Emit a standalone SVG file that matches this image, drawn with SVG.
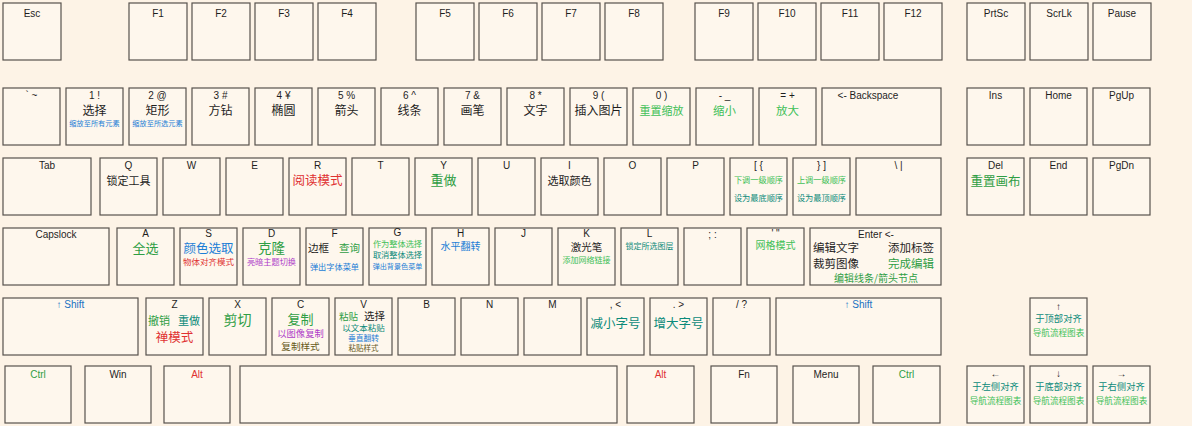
<svg xmlns="http://www.w3.org/2000/svg" width="1192" height="426" viewBox="0 0 1192 426">
<style>
.bg{fill:#fdf3e6}
.k{fill:#fef7ed;stroke:#57524d;stroke-width:1.2}
text{font-family:"Liberation Sans","Noto Sans CJK SC",sans-serif;text-anchor:middle;fill:#1e1e1e}
.l{font-size:10px}
.f{font-size:10px}
.z{font-family:"Noto Sans CJK SC",sans-serif}
.s{text-anchor:start}
.gr{fill:#2f9e44}
.lg{fill:#40c057}
.tl{fill:#0b8a7a}
.bl{fill:#1c7ed6}
.db{fill:#1971c2}
.rd{fill:#e03131}
.pu{fill:#ae3ec9}
.ol{fill:#66591a}
</style>
<rect class="bg" x="0" y="0" width="1192" height="426"/>
<g id="connectors"/>
<!-- Row 1 -->
<g id="key-esc"><rect class="k" x="3" y="3" width="58" height="57"/><text class="f" x="32" y="17">Esc</text></g>
<g id="key-f1"><rect class="k" x="129" y="3" width="58" height="57"/><text class="f" x="158" y="17">F1</text></g>
<g id="key-f2"><rect class="k" x="192" y="3" width="58" height="57"/><text class="f" x="221" y="17">F2</text></g>
<g id="key-f3"><rect class="k" x="255" y="3" width="58" height="57"/><text class="f" x="284" y="17">F3</text></g>
<g id="key-f4"><rect class="k" x="318" y="3" width="58" height="57"/><text class="f" x="347" y="17">F4</text></g>
<g id="key-f5"><rect class="k" x="416" y="3" width="58" height="57"/><text class="f" x="445" y="17">F5</text></g>
<g id="key-f6"><rect class="k" x="479" y="3" width="58" height="57"/><text class="f" x="508" y="17">F6</text></g>
<g id="key-f7"><rect class="k" x="542" y="3" width="58" height="57"/><text class="f" x="571" y="17">F7</text></g>
<g id="key-f8"><rect class="k" x="605" y="3" width="58" height="57"/><text class="f" x="634" y="17">F8</text></g>
<g id="key-f9"><rect class="k" x="695" y="3" width="58" height="57"/><text class="f" x="724" y="17">F9</text></g>
<g id="key-f10"><rect class="k" x="758" y="3" width="58" height="57"/><text class="f" x="787" y="17">F10</text></g>
<g id="key-f11"><rect class="k" x="821" y="3" width="58" height="57"/><text class="f" x="850" y="17">F11</text></g>
<g id="key-f12"><rect class="k" x="884" y="3" width="58" height="57"/><text class="f" x="913" y="17">F12</text></g>
<g id="key-prtsc"><rect class="k" x="967" y="3" width="58" height="57"/><text class="f" x="996" y="17">PrtSc</text></g>
<g id="key-scrlk"><rect class="k" x="1030" y="3" width="58" height="57"/><text class="f" x="1059" y="17">ScrLk</text></g>
<g id="key-pause"><rect class="k" x="1093" y="3" width="58" height="57"/><text class="f" x="1122" y="17">Pause</text></g>
<!-- Row 2 -->
<g id="key-backtick"><rect class="k" x="3" y="88" width="57" height="57"/><text class="l" x="31.5" y="99">` ~</text></g>
<g id="key-1"><rect class="k" x="66" y="88" width="57" height="57"/><text class="l" x="94.5" y="99">1 !</text><text class="z" x="94.5" y="115" font-size="12">选择</text><text class="z bl" x="94.5" y="126" font-size="7.2">缩放至所有元素</text></g>
<g id="key-2"><rect class="k" x="129" y="88" width="57" height="57"/><text class="l" x="157.5" y="99">2 @</text><text class="z" x="157.5" y="115" font-size="12">矩形</text><text class="z bl" x="157.5" y="126" font-size="7.2">缩放至所选元素</text></g>
<g id="key-3"><rect class="k" x="192" y="88" width="57" height="57"/><text class="l" x="220.5" y="99">3 #</text><text class="z" x="220.5" y="115" font-size="12">方钻</text></g>
<g id="key-4"><rect class="k" x="255" y="88" width="57" height="57"/><text class="l" x="283.5" y="99">4 ¥</text><text class="z" x="283.5" y="115" font-size="12">椭圆</text></g>
<g id="key-5"><rect class="k" x="318" y="88" width="57" height="57"/><text class="l" x="346.5" y="99">5 %</text><text class="z" x="346.5" y="115" font-size="12">箭头</text></g>
<g id="key-6"><rect class="k" x="381" y="88" width="57" height="57"/><text class="l" x="409.5" y="99">6 ^</text><text class="z" x="409.5" y="115" font-size="12">线条</text></g>
<g id="key-7"><rect class="k" x="444" y="88" width="57" height="57"/><text class="l" x="472.5" y="99">7 &amp;</text><text class="z" x="472.5" y="115" font-size="12">画笔</text></g>
<g id="key-8"><rect class="k" x="507" y="88" width="57" height="57"/><text class="l" x="535.5" y="99">8 *</text><text class="z" x="535.5" y="115" font-size="12">文字</text></g>
<g id="key-9"><rect class="k" x="570" y="88" width="57" height="57"/><text class="l" x="598.5" y="99">9 (</text><text class="z" x="598.5" y="115" font-size="12">插入图片</text></g>
<g id="key-0"><rect class="k" x="633" y="88" width="57" height="57"/><text class="l" x="661.5" y="99">0 )</text><text class="z lg" x="661.5" y="115" font-size="11">重置缩放</text></g>
<g id="key-minus"><rect class="k" x="696" y="88" width="57" height="57"/><text class="l" x="724.5" y="99">- _</text><text class="z lg" x="724.5" y="115" font-size="11.5">缩小</text></g>
<g id="key-equal"><rect class="k" x="759" y="88" width="57" height="57"/><text class="l" x="787.5" y="99">= +</text><text class="z lg" x="787.5" y="115" font-size="11.5">放大</text></g>
<g id="key-backspace"><rect class="k" x="822" y="88" width="119" height="57"/><text class="l" x="868" y="99">&lt;- Backspace</text></g>
<g id="key-ins"><rect class="k" x="967" y="88" width="57" height="57"/><text class="l" x="995.5" y="99">Ins</text></g>
<g id="key-home"><rect class="k" x="1030" y="88" width="57" height="57"/><text class="l" x="1058.5" y="99">Home</text></g>
<g id="key-pgup"><rect class="k" x="1093" y="88" width="57" height="57"/><text class="l" x="1121.5" y="99">PgUp</text></g>
<!-- Row 3 -->
<g id="key-tab"><rect class="k" x="3" y="158" width="88" height="57"/><text class="l" x="47" y="169">Tab</text></g>
<g id="key-q"><rect class="k" x="100" y="158" width="57" height="57"/><text class="l" x="128.5" y="169">Q</text><text class="z" x="128.5" y="185" font-size="11">锁定工具</text></g>
<g id="key-w"><rect class="k" x="163" y="158" width="57" height="57"/><text class="l" x="191.5" y="169">W</text></g>
<g id="key-e"><rect class="k" x="226" y="158" width="57" height="57"/><text class="l" x="254.5" y="169">E</text></g>
<g id="key-r"><rect class="k" x="289" y="158" width="57" height="57"/><text class="l" x="317.5" y="169">R</text><text class="z rd" x="317.5" y="185" font-size="12.5">阅读模式</text></g>
<g id="key-t"><rect class="k" x="352" y="158" width="57" height="57"/><text class="l" x="380.5" y="169">T</text></g>
<g id="key-y"><rect class="k" x="415" y="158" width="57" height="57"/><text class="l" x="443.5" y="169">Y</text><text class="z gr" x="443.5" y="185" font-size="13">重做</text></g>
<g id="key-u"><rect class="k" x="478" y="158" width="57" height="57"/><text class="l" x="506.5" y="169">U</text></g>
<g id="key-i"><rect class="k" x="541" y="158" width="57" height="57"/><text class="l" x="569.5" y="169">I</text><text class="z" x="569.5" y="185" font-size="11">选取颜色</text></g>
<g id="key-o"><rect class="k" x="604" y="158" width="57" height="57"/><text class="l" x="632.5" y="169">O</text></g>
<g id="key-p"><rect class="k" x="667" y="158" width="57" height="57"/><text class="l" x="695.5" y="169">P</text></g>
<g id="key-lbracket"><rect class="k" x="730" y="158" width="57" height="57"/><text class="l" x="758.5" y="169">[ {</text><text class="z lg" x="758.5" y="183" font-size="8.2">下调一级顺序</text><text class="z tl" x="758.5" y="201" font-size="8.2">设为最底顺序</text></g>
<g id="key-rbracket"><rect class="k" x="793" y="158" width="57" height="57"/><text class="l" x="821.5" y="169">} ]</text><text class="z lg" x="821.5" y="183" font-size="8.2">上调一级顺序</text><text class="z tl" x="821.5" y="201" font-size="8.2">设为最顶顺序</text></g>
<g id="key-backslash"><rect class="k" x="856" y="158" width="85" height="57"/><text class="l" x="898.5" y="169">\ |</text></g>
<g id="key-del"><rect class="k" x="967" y="158" width="57" height="57"/><text class="l" x="995.5" y="169">Del</text><text class="z gr" x="995.5" y="186" font-size="12.5">重置画布</text></g>
<g id="key-end"><rect class="k" x="1030" y="158" width="57" height="57"/><text class="l" x="1058.5" y="169">End</text></g>
<g id="key-pgdn"><rect class="k" x="1093" y="158" width="57" height="57"/><text class="l" x="1121.5" y="169">PgDn</text></g>
<!-- Row 4 -->
<g id="key-capslock"><rect class="k" x="3" y="228" width="106" height="57"/><text class="l" x="56" y="238">Capslock</text></g>
<g id="key-a"><rect class="k" x="117" y="228" width="57" height="57"/><text class="l" x="145.5" y="237">A</text><text class="z gr" x="145.5" y="253" font-size="13">全选</text></g>
<g id="key-s"><rect class="k" x="180" y="228" width="57" height="57"/><text class="l" x="208.5" y="237">S</text><text class="z bl" x="208.5" y="253" font-size="12.5">颜色选取</text><text class="z rd" x="208.5" y="265" font-size="8.5">物体对齐模式</text></g>
<g id="key-d"><rect class="k" x="243" y="228" width="57" height="57"/><text class="l" x="271.5" y="237">D</text><text class="z gr" x="271.5" y="253" font-size="13.5">克隆</text><text class="z pu" x="271.5" y="265" font-size="8.2">亮暗主题切换</text></g>
<g id="key-f"><rect class="k" x="306" y="228" width="57" height="57"/><text class="l" x="334.5" y="237">F</text><text class="z s" x="308" y="252" font-size="10.5">边框</text><text class="z s gr" x="339" y="252" font-size="10.5">查询</text><text class="z bl" x="334.5" y="270" font-size="8.2">弹出字体菜单</text></g>
<g id="key-g"><rect class="k" x="369" y="228" width="57" height="57"/><text class="l" x="397.5" y="236">G</text><text class="z lg" x="397.5" y="247" font-size="8.2">作为整体选择</text><text class="z tl" x="397.5" y="258" font-size="8.2">取消整体选择</text><text class="z bl" x="397.5" y="269" font-size="7.1">弹出背景色菜单</text></g>
<g id="key-h"><rect class="k" x="432" y="228" width="57" height="57"/><text class="l" x="460.5" y="237">H</text><text class="z bl" x="460.5" y="250" font-size="10">水平翻转</text></g>
<g id="key-j"><rect class="k" x="495" y="228" width="57" height="57"/><text class="l" x="523.5" y="237">J</text></g>
<g id="key-k"><rect class="k" x="558" y="228" width="57" height="57"/><text class="l" x="586.5" y="237">K</text><text class="z" x="586.5" y="251" font-size="10.5">激光笔</text><text class="z lg" x="586.5" y="263" font-size="8">添加网络链接</text></g>
<g id="key-l"><rect class="k" x="621" y="228" width="57" height="57"/><text class="l" x="649.5" y="237">L</text><text class="z tl" x="649.5" y="249" font-size="8">锁定所选图层</text></g>
<g id="key-semicolon"><rect class="k" x="684" y="228" width="57" height="57"/><text class="l" x="712.5" y="238">; :</text></g>
<g id="key-quote"><rect class="k" x="747" y="228" width="57" height="57"/><text class="l" x="775.5" y="237">' "</text><text class="z lg" x="775.5" y="249" font-size="10">网格模式</text></g>
<g id="key-enter"><rect class="k" x="810" y="228" width="131" height="57"/><text class="l" x="876" y="238">Enter &lt;-</text><text class="z s" x="813" y="252" font-size="11.5">编辑文字</text><text class="z s" x="888" y="252" font-size="11.5">添加标签</text><text class="z s" x="813" y="268" font-size="11.5">裁剪图像</text><text class="z s gr" x="888" y="268" font-size="11.5">完成编辑</text><text class="z gr" x="876" y="282" font-size="10">编辑线条/箭头节点</text></g>
<!-- Row 5 -->
<g id="key-lshift"><rect class="k" x="3" y="298" width="135" height="57"/><text class="l db" x="70.5" y="308">↑ Shift</text></g>
<g id="key-z"><rect class="k" x="146" y="298" width="57" height="57"/><text class="l" x="174.5" y="308">Z</text><text class="z s gr" x="148" y="325" font-size="11">撤销</text><text class="z s tl" x="178" y="325" font-size="11">重做</text><text class="z rd" x="174.5" y="342" font-size="12.5">禅模式</text></g>
<g id="key-x"><rect class="k" x="209" y="298" width="57" height="57"/><text class="l" x="237.5" y="308">X</text><text class="z gr" x="237.5" y="325" font-size="14">剪切</text></g>
<g id="key-c"><rect class="k" x="272" y="298" width="57" height="57"/><text class="l" x="300.5" y="308">C</text><text class="z gr" x="300.5" y="324" font-size="13">复制</text><text class="z pu" x="300.5" y="337" font-size="9.3">以图像复制</text><text class="z ol" x="300.5" y="350" font-size="9.6">复制样式</text></g>
<g id="key-v"><rect class="k" x="335" y="298" width="57" height="57"/><text class="l" x="363.5" y="308">V</text><text class="z s gr" x="339" y="320" font-size="9.5">粘贴</text><text class="z s" x="364" y="320" font-size="10.5">选择</text><text class="z tl" x="363.5" y="331" font-size="8.5">以文本粘贴</text><text class="z bl" x="363.5" y="341" font-size="7.8">垂直翻转</text><text class="z ol" x="363.5" y="351" font-size="7.5">粘贴样式</text></g>
<g id="key-b"><rect class="k" x="398" y="298" width="57" height="57"/><text class="l" x="426.5" y="308">B</text></g>
<g id="key-n"><rect class="k" x="461" y="298" width="57" height="57"/><text class="l" x="489.5" y="308">N</text></g>
<g id="key-m"><rect class="k" x="524" y="298" width="57" height="57"/><text class="l" x="552.5" y="308">M</text></g>
<g id="key-comma"><rect class="k" x="587" y="298" width="57" height="57"/><text class="l" x="615.5" y="308">, &lt;</text><text class="z tl" x="615.5" y="328" font-size="12.5">减小字号</text></g>
<g id="key-period"><rect class="k" x="650" y="298" width="57" height="57"/><text class="l" x="678.5" y="308">. &gt;</text><text class="z tl" x="678.5" y="328" font-size="12.5">增大字号</text></g>
<g id="key-slash"><rect class="k" x="713" y="298" width="57" height="57"/><text class="l" x="741.5" y="308">/ ?</text></g>
<g id="key-rshift"><rect class="k" x="776" y="298" width="165" height="57"/><text class="l db" x="858.5" y="308">↑ Shift</text></g>
<g id="key-up"><rect class="k" x="1030" y="298" width="57" height="57"/><text class="l" x="1058.5" y="310">↑</text><text class="z tl" x="1058.5" y="322" font-size="9.3">于顶部对齐</text><text class="z lg" x="1058.5" y="336" font-size="8.6">导航流程图表</text></g>
<!-- Row 6 -->
<g id="key-lctrl"><rect class="k" x="5" y="366" width="66" height="57"/><text class="l gr" x="38" y="378">Ctrl</text></g>
<g id="key-win"><rect class="k" x="85" y="366" width="66" height="57"/><text class="l" x="118" y="378">Win</text></g>
<g id="key-lalt"><rect class="k" x="164" y="366" width="66" height="57"/><text class="l rd" x="197" y="378">Alt</text></g>
<g id="key-space"><rect class="k" x="240" y="366" width="377" height="57"/></g>
<g id="key-ralt"><rect class="k" x="627" y="366" width="67" height="57"/><text class="l rd" x="660.5" y="378">Alt</text></g>
<g id="key-fn"><rect class="k" x="711" y="366" width="66" height="57"/><text class="l" x="744" y="378">Fn</text></g>
<g id="key-menu"><rect class="k" x="793" y="366" width="66" height="57"/><text class="l" x="826" y="378">Menu</text></g>
<g id="key-rctrl"><rect class="k" x="873" y="366" width="67" height="57"/><text class="l gr" x="906.5" y="378">Ctrl</text></g>
<g id="key-left"><rect class="k" x="967" y="366" width="57" height="57"/><text class="l" x="995.5" y="377">←</text><text class="z tl" x="995.5" y="390" font-size="9.3">于左侧对齐</text><text class="z lg" x="995.5" y="404" font-size="8.6">导航流程图表</text></g>
<g id="key-down"><rect class="k" x="1030" y="366" width="57" height="57"/><text class="l" x="1058.5" y="377">↓</text><text class="z tl" x="1058.5" y="390" font-size="9.3">于底部对齐</text><text class="z lg" x="1058.5" y="404" font-size="8.6">导航流程图表</text></g>
<g id="key-right"><rect class="k" x="1093" y="366" width="57" height="57"/><text class="l" x="1121.5" y="377">→</text><text class="z tl" x="1121.5" y="390" font-size="9.3">于右侧对齐</text><text class="z lg" x="1121.5" y="404" font-size="8.6">导航流程图表</text></g>
</svg>
